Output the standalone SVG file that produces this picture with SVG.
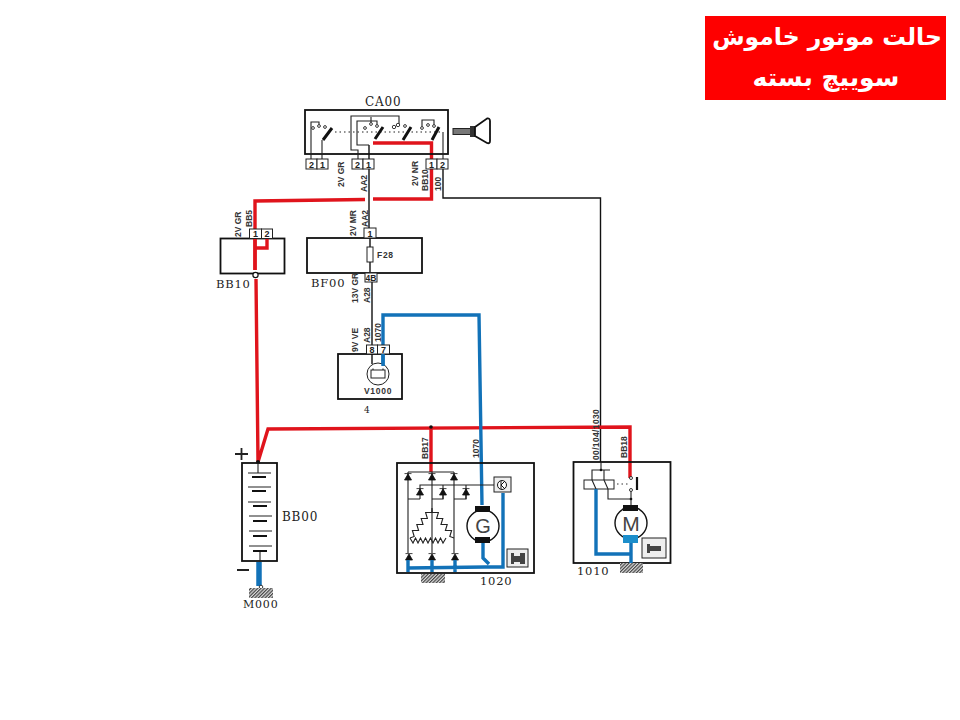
<svg xmlns="http://www.w3.org/2000/svg" width="960" height="720" viewBox="0 0 960 720">
<style>
.b{fill:none;stroke:#111;stroke-width:1.8}
.t{fill:none;stroke:#222;stroke-width:1.1}
.w{fill:none;stroke:#111;stroke-width:1.4}
.red{fill:none;stroke:#e0141c;stroke-width:3.4}
.blue{fill:none;stroke:#1272b8;stroke-width:3.4}
.pin{fill:#fff;stroke:#222;stroke-width:1}
.k{fill:#111}
.d{fill:#111;stroke:#111;stroke-width:.8}
.s{font-family:"Liberation Sans",sans-serif;font-size:8.500px;font-weight:bold;fill:#333}
.p{font-family:"Liberation Sans",sans-serif;font-size:9px;font-weight:bold;fill:#222;text-anchor:middle}
.n{font-family:"DejaVu Serif","Liberation Serif",serif;font-size:11.500px;letter-spacing:.8px;fill:#222}
.fa{font-family:"DejaVu Sans",sans-serif;font-size:23.500px;font-weight:bold;fill:#fff;text-anchor:middle}
.h{fill:url(#hatch)}
.o{fill:#fff;stroke:#222;stroke-width:.9}
</style>
<defs>
<pattern id="hatch" width="2.400" height="2.400" patternUnits="userSpaceOnUse" patternTransform="rotate(45)"><rect width="2.400" height="2.400" fill="#ddd"/><rect width="1.200" height="2.400" fill="#444"/></pattern>
<path id="di" d="M-3.500 3 L3.500 3 L0 -3 Z M-3.500 -3.400 H3.500" class="d"/>
</defs>
<rect width="960" height="720" fill="#fff"/>

<g id="title">
<rect x="705" y="16" width="241" height="84" fill="#fe0000"/>
<text class="fa" x="827" y="45" direction="rtl">حالت موتور خاموش</text>
<text class="fa" x="826" y="86" direction="rtl" style="font-size:25px">سوییچ بسته</text>
</g>

<g id="connectors">
<path class="w" d="M369 145V228M370 238V272M372 282V345"/>
<path class="w" d="M443 169V198H600.500V462"/>
<path class="red" d="M373 143H431.500V199H373M365 199.500L255 201V270M256 279L258 462L268 429L630 427V478"/>
<path class="red" d="M431 427V472"/>
<path class="blue" d="M383 365V315H479L482 505"/>
<path class="blue" d="M259 562V586" style="stroke-width:5.500"/>
<circle cx="431" cy="427" r="1.800" class="k"/>
<circle cx="258" cy="462" r="2" class="k"/>
<circle cx="261" cy="587" r="1.800" class="o"/>
</g>

<g id="CA00">
<rect class="b" x="305" y="110" width="143" height="44"/>
<text class="n" x="365" y="106" style="font-size:12px">CA00</text>
<path class="t" d="M311 159V122H319V125M322 159V140"/>
<path class="t" d="M358 159V150H351V116H399V124M369 145H357V121H377V125M371 117V123"/>
<path class="t" d="M422 127V120H434V125M443 132V159"/>
<path class="t" d="M335 132H443" stroke-dasharray="1.500 3"/>
<circle class="o" cx="313" cy="128" r="1.400"/><circle class="o" cx="319" cy="126" r="1.400"/><circle class="o" cx="325" cy="127" r="1.400"/>
<circle class="o" cx="365" cy="128" r="1.400"/><circle class="o" cx="371" cy="124" r="1.400"/><circle class="o" cx="377" cy="126" r="1.400"/>
<circle class="o" cx="394" cy="127" r="1.700"/><circle class="o" cx="398" cy="125" r="1.700"/><circle class="o" cx="405" cy="126" r="1.400"/>
<circle class="o" cx="422" cy="128" r="1.400"/><circle class="o" cx="428" cy="125" r="1.400"/><circle class="o" cx="434" cy="126" r="1.400"/>
<path d="M323 140L332 128M375 139L383 127M403 140L411 127M432 140L439 127" stroke="#111" stroke-width="3" fill="none"/>
<rect class="pin" x="306" y="159" width="11" height="10"/><text class="p" x="311.500" y="167.500">2</text>
<rect class="pin" x="317" y="159" width="11" height="10"/><text class="p" x="322.500" y="167.500">1</text>
<rect class="pin" x="352" y="159" width="11" height="10"/><text class="p" x="357.500" y="167.500">2</text>
<rect class="pin" x="363" y="159" width="11" height="10"/><text class="p" x="368.500" y="167.500">1</text>
<rect class="pin" x="426" y="159" width="11" height="10"/><text class="p" x="431.500" y="167.500">1</text>
<rect class="pin" x="437" y="159" width="11" height="10"/><text class="p" x="442.500" y="167.500">2</text>
<text class="s" transform="translate(344,187) rotate(-90)">2V GR</text>
<text class="s" transform="translate(367,192) rotate(-90)">AA2</text>
<text class="s" transform="translate(418,186) rotate(-90)">2V NR</text>
<text class="s" transform="translate(428,191) rotate(-90)">BB10</text>
<text class="s" transform="translate(441,191) rotate(-90)">100</text>
<rect x="453" y="128.500" width="18" height="6" fill="#777" stroke="#222"/>
<rect x="470" y="126" width="5" height="11" fill="#333"/>
<path d="M475 127L487 118.500Q490 118 490 121V141Q490 144 487 143L475 136Z" fill="#fff" stroke="#111" stroke-width="1.800"/>
</g>

<g id="BB10">
<rect class="b" x="220.500" y="238.500" width="64" height="35"/>
<rect class="pin" x="249.500" y="229" width="12" height="9.500"/><text class="p" x="255.500" y="237">1</text>
<rect class="pin" x="261.500" y="229" width="11" height="9.500"/><text class="p" x="267" y="237">2</text>
<text class="n" x="216" y="288">BB10</text>
<text class="s" transform="translate(241,237) rotate(-90)">2V GR</text>
<text class="s" transform="translate(252,227) rotate(-90)">BB5</text>
<path class="red" d="M267 239V248H255"/>
<path class="red" d="M255 239V270"/>
<circle cx="255.500" cy="275" r="2.600" fill="#fff" stroke="#111" stroke-width="1.200"/>
</g>

<g id="BF00">
<rect class="b" x="307" y="238" width="115" height="35"/>
<rect class="pin" x="364" y="228" width="12" height="10"/><text class="p" x="370" y="236.500">1</text>
<rect class="pin" x="365" y="273" width="12" height="9"/><text class="p" x="371" y="280.500" style="font-size:8.500px">4B</text>
<rect x="367" y="247" width="6" height="15" fill="#fff" stroke="#222"/>
<text class="s" x="377" y="258" style="letter-spacing:.7px">F28</text>
<text class="n" x="311" y="287">BF00</text>
<text class="s" transform="translate(356,236) rotate(-90)">2V MR</text>
<text class="s" transform="translate(368,227) rotate(-90)">AA2</text>
<text class="s" transform="translate(358,303) rotate(-90)">13V GR</text>
<text class="s" transform="translate(370,303) rotate(-90)">A28</text>
</g>

<g id="V1000">
<rect class="b" x="338" y="354" width="64" height="45"/>
<rect class="pin" x="366.500" y="345" width="11" height="9"/><text class="p" x="372" y="352.800">8</text>
<rect class="pin" x="377.500" y="345" width="12" height="9"/><text class="p" x="383.500" y="352.800">7</text>
<path class="w" d="M372 354V364"/>
<circle cx="378" cy="374" r="11" fill="#fff" stroke="#222"/>
<rect x="371" y="370" width="14" height="8" fill="#fff" stroke="#222"/>
<path class="t" d="M373 370V368.500M383 370V368.500"/>
<path class="blue" d="M383 354V366"/>
<text class="s" x="364" y="394" style="letter-spacing:.7px">V1000</text>
<text class="n" x="364" y="413" style="font-size:9px">4</text>
<text class="s" transform="translate(358,352) rotate(-90)">9V VE</text>
<text class="s" transform="translate(370,343) rotate(-90)">A28</text>
<text class="s" transform="translate(381,342) rotate(-90)">1070</text>
</g>

<g id="BB00">
<rect class="b" x="242" y="463" width="35" height="98"/>
<text class="n" x="282" y="521" style="font-size:12px">BB00</text>
<path d="M235 454H248M241.500 448V460M237 570H249" stroke="#222" stroke-width="1.800" fill="none"/>
<path class="t" d="M248 473H271M248 487H271M248 502H271M249 516H272M249 531H272M249 546H272M258 463V473M260 551V562"/>
<path d="M252 477H266M252 491H266M253 506H267M253 521H267M253 536H267M253 551H267" stroke="#111" stroke-width="1.800" fill="none"/>
<rect class="h" x="249" y="588" width="24" height="10"/>
<text class="n" x="243" y="608" style="font-size:11px">M000</text>
</g>

<g id="G1020">
<rect class="b" x="397" y="463" width="137" height="110"/>
<text class="n" x="480" y="585" style="font-size:11.500px">1020</text>
<rect class="h" x="421" y="574" width="24" height="9"/>
<text class="s" transform="translate(428,459) rotate(-90)">BB17</text>
<text class="s" transform="translate(479,458) rotate(-90)">1070</text>
<path class="t" d="M408 472H454M408 472V553M432 472V553M454 472V553M420 491V485H494M443 485V499H432M466 485V499H454M420 499H408"/>
<path class="t" d="M420 491V499M443 491V499M466 491V499"/>
<path class="t" d="M410 538L414.200 536.500L412.400 530.500L418.600 530.500L416.800 524.500L423 524.500L421.200 518.500L427.400 518.500L425.600 512.500L431.800 512.500L432 508L432.200 512.500L438.400 512.500L436.600 518.500L442.800 518.500L441 524.500L447.200 524.500L445.400 530.500L451.600 530.500L449.800 536.500L454 538"/>
<path class="t" d="M410 538l3 5 2.500-5 2.500 5 2.500-5 2.500 5 2.500-5 2.500 5 2.500-5 2.500 5 2.500-5 2.500 5 2.500-5 2.500 5 3-5"/>
<use href="#di" x="408" y="477"/><use href="#di" x="432" y="477"/><use href="#di" x="454" y="477"/>
<use href="#di" x="420" y="492"/><use href="#di" x="443" y="492"/><use href="#di" x="466" y="492"/>
<use href="#di" x="409" y="557"/><use href="#di" x="432" y="557"/><use href="#di" x="455" y="557"/>
<circle cx="483" cy="526" r="16" fill="#fff" stroke="#111" stroke-width="1.400"/>
<rect x="475" y="506" width="15" height="6" class="k"/><rect x="475" y="537" width="15" height="6" class="k"/>
<text x="483" y="533" text-anchor="middle" style="font-family:'Liberation Sans',sans-serif;font-size:20px;fill:#444">G</text>
<rect x="494" y="477" width="17" height="15" fill="#eee" stroke="#222"/>
<circle cx="502" cy="485" r="4.500" fill="#fff" stroke="#111"/>
<path d="M501 481V489M501 485L505 481M501 485L505 489" stroke="#111" fill="none"/>
<rect x="507" y="549" width="21" height="18" fill="#eee" stroke="#222"/>
<path d="M511 553H514V564H511ZM514 556H520V562H514ZM520 553H525V564H520Z" fill="#444"/>
<path class="blue" d="M408 560V572M432 560V572M455 560V572M408 568L485 567H503V493M483 543V558L489 564"/>
</g>

<g id="M1010">
<rect class="b" x="573.500" y="462" width="97" height="101"/>
<text class="n" x="577" y="575" style="font-size:11.500px">1010</text>
<rect class="h" x="620" y="563" width="23" height="10"/>
<text class="s" transform="translate(599,460) rotate(-90)" style="letter-spacing:.35px">00/104/1030</text>
<text class="s" transform="translate(627,458) rotate(-90)">BB18</text>
<rect x="584" y="480" width="30" height="9" fill="#fff" stroke="#222"/>
<path class="t" d="M601 462V470M592 480V470H610M604 470V480M608 489V499H631V505M631 490V499"/>
<path class="t" d="M592 480L596 489M604 480L608 489"/>
<circle cx="601" cy="470" r="1.300" class="k"/><circle cx="631" cy="499" r="1.300" class="k"/>
<path d="M617 484H628" stroke="#333" stroke-dasharray="1.500 3"/>
<path d="M637 477V490" stroke="#111" stroke-width="2.200"/>
<circle class="o" cx="631" cy="478" r="1.500"/><circle class="o" cx="631" cy="490" r="1.500"/>
<circle cx="631" cy="523" r="16" fill="#fff" stroke="#111" stroke-width="1.400"/>
<rect x="623" y="505" width="15" height="6" class="k"/>
<rect x="623" y="535" width="15" height="8" fill="#1c8ecb"/>
<text x="631" y="531" text-anchor="middle" style="font-family:'Liberation Sans',sans-serif;font-size:21px;fill:#444">M</text>
<rect x="642" y="538" width="24" height="20" fill="#eee" stroke="#222"/>
<path d="M647 544H650V553H647ZM650 546H661V551H650Z" fill="#444"/>
<path class="blue" d="M596 489V554H631M631 543V563"/>
</g>
</svg>
